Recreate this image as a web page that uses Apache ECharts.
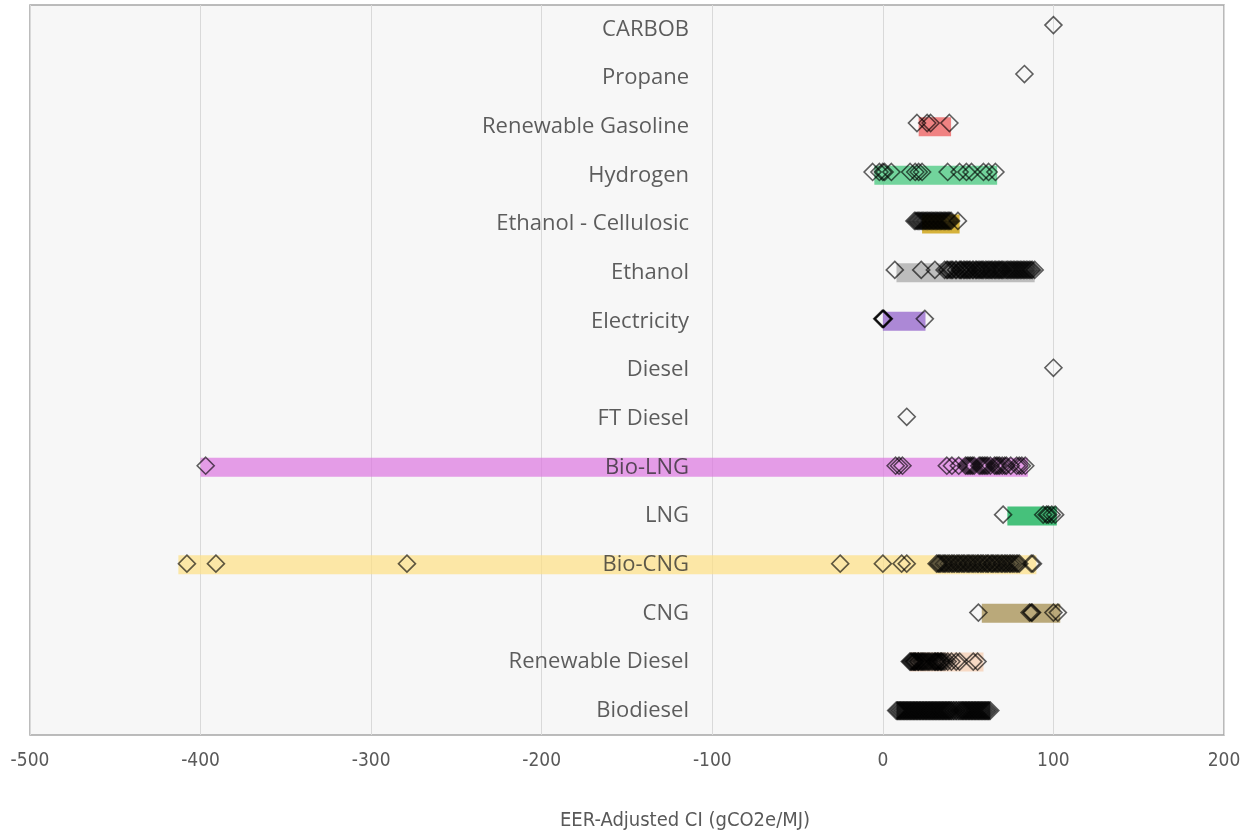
<!DOCTYPE html>
<html>
<head>
<meta charset="utf-8">
<script src="https://cdn.jsdelivr.net/npm/echarts@6/dist/echarts.min.js"></script>
<style>
html,body{margin:0;padding:0;background:#ffffff;}
#chart{width:1246px;height:831px;}
</style>
</head>
<body>
<div id="chart"></div>
<script>
// ---- data ----
const categories = ['CARBOB','Propane','Renewable Gasoline','Hydrogen','Ethanol - Cellulosic','Ethanol','Electricity','Diesel','FT Diesel','Bio-LNG','LNG','Bio-CNG','CNG','Renewable Diesel','Biodiesel'];

// range bars (min / max EER-adjusted CI per fuel)
const rangeLow  = [null, null, 21, -5, 23, 8, 0, null, null, -400, 73, -413, 58, 16, 8];
const rangeHigh = [null, null, 40, 67, 45, 89, 25, null, null, 85, 102, 90, 104, 59, 63];

// individual pathway CIs per fuel
const ptsCARBOB = [100];
const ptsPropane = [83];
const ptsRenewableGasoline = [20, 26, 28, 39];
const ptsHydrogen = [-6, -2, 0, 1, 5, 16, 19, 21, 23, 38, 45, 49, 52, 59, 62, 66];
const ptsEthanolCellulosic = [18.5, 19.3, 20.1, 20.8, 21.6, 22.4, 23.1, 23.9, 24.7, 25.4, 26.2, 27.0, 27.7, 28.5, 29.3, 30.0, 30.8, 31.6, 32.3, 33.1, 33.9, 34.6, 35.4, 36.2, 36.9, 37.7, 38.5, 39.2, 40.0, 44.0];
const ptsEthanol = [7, 22.5, 30.5, 36.2, 37.5, 38.1, 39.4, 40.3, 41.0, 42.6, 43.2, 44.8, 45.5, 46.1, 47.3, 48.0, 48.9, 49.7, 50.6, 51.2, 52.5, 53.1, 54.4, 55.0, 55.9, 56.8, 57.6, 58.3, 59.1, 60.2, 61.0, 61.8, 62.7, 63.5, 64.2, 65.3, 66.0, 66.9, 67.8, 68.5, 69.4, 70.1, 71.0, 72.2, 73.0, 73.9, 74.8, 75.6, 76.5, 77.3, 78.2, 79.0, 79.8, 80.7, 81.5, 82.4, 83.2, 84.1, 85.0, 85.9, 86.8, 87.6, 89];
const ptsElectricity = [-0.4, 0, 0.3, 0.6, 24.6];
const ptsDiesel = [100];
const ptsFTDiesel = [14];
const ptsBioLNG = [-397, 7.5, 9.5, 11.5, 37.5, 40.5, 44.5, 48.5, 49.5, 50.5, 51.5, 52.5, 53.5, 56.5, 57.5, 58.5, 59.5, 60.5, 61.5, 63, 65.5, 66.5, 67.5, 68.5, 70, 71.5, 72.5, 75, 78.5, 80, 81.5, 83.5];
const ptsLNG = [70.5, 94, 96, 97, 99, 101];
const ptsBioCNG = [-408, -391, -279, -25, 0, 11, 14, 31.5, 32.4, 33.1, 34.0, 35.2, 36.0, 36.9, 38.1, 39.0, 40.2, 41.1, 42.0, 43.3, 44.1, 45.0, 46.2, 47.1, 48.0, 49.3, 50.1, 51.0, 52.2, 53.0, 54.1, 55.3, 56.0, 57.2, 58.1, 59.0, 60.3, 61.2, 62.0, 63.4, 64.1, 65.0, 66.2, 67.1, 68.0, 69.3, 70.0, 71.2, 72.1, 73.0, 74.2, 75.0, 76.1, 77.0, 78.2, 79.1, 80.0, 87, 88];
const ptsCNG = [56, 86, 87, 87.5, 100, 102.6];
const ptsRenewableDiesel = [15.8, 16.4, 16.9, 17.6, 18.1, 18.5, 19.0, 19.4, 20.3, 20.8, 21.1, 22.0, 22.6, 23.2, 23.8, 24.5, 25.2, 26.0, 26.7, 27.4, 28.3, 29.2, 30.1, 30.6, 31.0, 31.8, 32.2, 32.7, 33.6, 34.1, 34.5, 35.3, 36.4, 38.0, 40.2, 43.0, 45.0, 53.0, 55.5];
const ptsBiodiesel = [7.8, 8.6, 9.5, 10.3, 11.2, 12.0, 12.9, 13.7, 14.6, 15.4, 16.3, 17.1, 18.0, 18.8, 19.7, 20.5, 21.4, 22.2, 23.1, 23.9, 24.8, 25.6, 26.5, 27.3, 28.2, 29.0, 29.9, 30.7, 31.6, 32.4, 33.3, 34.1, 35.0, 35.8, 36.7, 37.5, 38.4, 39.2, 40.1, 41.5, 43.0, 44.6, 45.8, 46.7, 47.5, 48.4, 49.2, 50.1, 50.9, 51.8, 52.6, 53.5, 54.3, 55.2, 56.0, 56.9, 57.7, 58.6, 59.4, 60.3, 61.1, 62.0, 63.0];

const pointsByCategory = [ptsCARBOB, ptsPropane, ptsRenewableGasoline, ptsHydrogen, ptsEthanolCellulosic, ptsEthanol, ptsElectricity, ptsDiesel, ptsFTDiesel, ptsBioLNG, ptsLNG, ptsBioCNG, ptsCNG, ptsRenewableDiesel, ptsBiodiesel];

const xTickMin = -500, xTickMax = 200, xTickStep = 100;
const axisTitle = 'EER-Adjusted CI (gCO2e/MJ)';

// ---- styles ----
const barColors = [null, null,
  'rgba(237,80,80,0.7)', 'rgba(57,196,117,0.7)', 'rgba(205,160,10,0.8)', 'rgba(164,164,164,0.7)',
  'rgba(139,89,200,0.7)', null, null, 'rgba(220,117,223,0.7)', 'rgba(39,183,101,0.85)',
  'rgba(253,223,131,0.7)', 'rgba(159,136,69,0.7)', 'rgba(247,204,174,0.7)', 'rgba(30,30,30,0.75)'];

const barData = [];
categories.forEach((c, i) => {
  if (rangeLow[i] !== null) barData.push([rangeLow[i], rangeHigh[i], i]);
});
const pointData = [];
pointsByCategory.forEach((arr, i) => arr.forEach(v => pointData.push([v, i])));

const narrowFont = 'Liberation Sans Narrow, DejaVu Sans Condensed, Roboto, sans-serif';

const chart = echarts.init(document.getElementById('chart'), null, {renderer: 'canvas'});
chart.setOption({
  animation: false,
  backgroundColor: '#ffffff',
  grid: {
    left: 30, right: 22, top: 5, bottom: 96,
    show: true, backgroundColor: '#f7f7f7', borderColor: '#a6a6a6', borderWidth: 1.5
  },
  title: {
    text: axisTitle, left: 680, top: 806, textAlign: 'center',
    textStyle: {fontFamily: narrowFont, fontSize: 20, fontWeight: 'normal', color: '#595959'}
  },
  xAxis: {
    type: 'value', min: xTickMin, max: xTickMax, interval: xTickStep,
    axisLine: {show: false}, axisTick: {show: false},
    splitLine: {show: true, lineStyle: {color: '#d9d9d9', width: 1}},
    axisLabel: {margin: 17, fontFamily: narrowFont, fontSize: 19, color: '#595959'}
  },
  yAxis: [
    {
      type: 'category', data: categories, inverse: true, z: 10,
      axisLine: {show: false}, axisTick: {show: false}, splitLine: {show: false},
      axisLabel: {margin: -659, fontFamily: 'Open Sans, sans-serif', fontSize: 22, color: 'rgba(40,40,40,0.75)'}
    },
    {
      type: 'value', min: -0.41, max: 14.5, inverse: true, show: false,
      splitLine: {show: false}
    }
  ],
  series: [
    {
      type: 'custom', xAxisIndex: 0, yAxisIndex: 0, z: 2,
      encode: {x: [0, 1], y: 2},
      data: barData,
      renderItem: function (params, api) {
        const idx = api.value(2);
        const p0 = api.coord([api.value(0), idx]);
        const p1 = api.coord([api.value(1), idx]);
        const h = api.size([0, 1])[1] * 0.39;
        return {
          type: 'rect',
          shape: {x: p0[0], y: p0[1] - h / 2, width: p1[0] - p0[0], height: h},
          style: {fill: barColors[idx]}
        };
      }
    },
    {
      type: 'scatter', xAxisIndex: 0, yAxisIndex: 1, z: 3,
      symbol: 'diamond', symbolSize: [17, 17],
      data: pointData,
      itemStyle: {color: 'rgba(0,0,0,0)', borderColor: 'rgba(0,0,0,0.78)', borderWidth: 1.6}
    }
  ]
});
</script>
</body>
</html>
